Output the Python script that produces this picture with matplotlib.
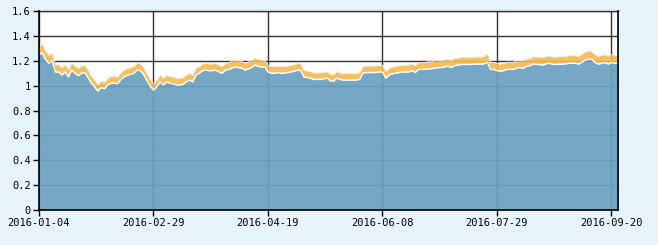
import matplotlib
matplotlib.use("Agg")
import matplotlib.pyplot as plt
import numpy as np

# tick labels (category axis of trading days, one label every 35 days)
tick_idx = [0, 35, 70, 105, 140, 175]
tick_labels = ["2016-01-04", "2016-02-29", "2016-04-19",
               "2016-06-08", "2016-07-29", "2016-09-20"]

# lower (blue) series
blue = [
    1.25, 1.265, 1.21, 1.18, 1.20, 1.11, 1.11, 1.085, 1.11, 1.07,
    1.125, 1.10, 1.08, 1.10, 1.105, 1.065, 1.02, 0.99, 0.955, 0.985,
    0.975, 1.005, 1.02, 1.02, 1.015, 1.05, 1.07, 1.085, 1.09, 1.10,
    1.125, 1.12, 1.09, 1.04, 0.995, 0.965, 0.99, 1.03, 1.005, 1.03,
    1.02, 1.015, 1.005, 1.005, 1.01, 1.03, 1.045, 1.03, 1.085, 1.10,
    1.12, 1.125, 1.12, 1.12, 1.125, 1.11, 1.10, 1.125, 1.13, 1.14,
    1.15, 1.145, 1.14, 1.125, 1.135, 1.145, 1.165, 1.155, 1.15, 1.15,
    1.11, 1.10, 1.10, 1.105, 1.10, 1.10, 1.105, 1.11, 1.115, 1.125,
    1.12, 1.07, 1.065, 1.06, 1.05, 1.05, 1.05, 1.055, 1.06, 1.04,
    1.035, 1.06, 1.05, 1.045, 1.045, 1.045, 1.045, 1.045, 1.05, 1.10,
    1.105, 1.105, 1.105, 1.105, 1.11, 1.11, 1.06, 1.085, 1.095, 1.10,
    1.105, 1.11, 1.11, 1.11, 1.12, 1.105, 1.13, 1.13, 1.13, 1.135,
    1.135, 1.14, 1.145, 1.145, 1.15, 1.157, 1.145, 1.16, 1.165, 1.17,
    1.17, 1.17, 1.17, 1.172, 1.173, 1.173, 1.175, 1.19, 1.13, 1.13,
    1.12, 1.117, 1.12, 1.13, 1.13, 1.13, 1.14, 1.145, 1.14, 1.155,
    1.16, 1.173, 1.17, 1.17, 1.165, 1.175, 1.18, 1.17, 1.17, 1.173,
    1.173, 1.175, 1.18, 1.18, 1.18, 1.173, 1.19, 1.205, 1.213, 1.21,
    1.185, 1.173, 1.18, 1.185, 1.173, 1.185, 1.18, 1.18,
]

# upper (orange) series, stacked on top of blue
orange = [
    0.063, 0.072, 0.068, 0.063, 0.063, 0.058, 0.058, 0.058, 0.058, 0.058,
    0.058, 0.058, 0.058, 0.058, 0.058, 0.058, 0.056, 0.054, 0.053, 0.053,
    0.053, 0.053, 0.054, 0.054, 0.054, 0.054, 0.055, 0.055, 0.055, 0.056,
    0.056, 0.056, 0.055, 0.054, 0.053, 0.053, 0.053, 0.054, 0.054, 0.054,
    0.054, 0.054, 0.054, 0.054, 0.054, 0.054, 0.054, 0.054, 0.055, 0.055,
    0.055, 0.055, 0.055, 0.055, 0.055, 0.055, 0.055, 0.055, 0.055, 0.056,
    0.056, 0.056, 0.056, 0.056, 0.056, 0.056, 0.056, 0.056, 0.056, 0.056,
    0.054, 0.054, 0.054, 0.054, 0.054, 0.054, 0.054, 0.054, 0.054, 0.054,
    0.054, 0.053, 0.053, 0.053, 0.053, 0.053, 0.053, 0.053, 0.053, 0.053,
    0.053, 0.053, 0.053, 0.053, 0.053, 0.053, 0.053, 0.053, 0.053, 0.053,
    0.053, 0.053, 0.054, 0.054, 0.054, 0.054, 0.054, 0.055, 0.055, 0.055,
    0.055, 0.055, 0.056, 0.056, 0.056, 0.056, 0.056, 0.056, 0.056, 0.057,
    0.057, 0.057, 0.057, 0.058, 0.058, 0.058, 0.058, 0.058, 0.058, 0.058,
    0.058, 0.058, 0.058, 0.058, 0.058, 0.058, 0.06, 0.068, 0.058, 0.058,
    0.058, 0.058, 0.058, 0.058, 0.058, 0.058, 0.058, 0.058, 0.058, 0.058,
    0.06, 0.06, 0.06, 0.06, 0.06, 0.061, 0.061, 0.061, 0.061, 0.061,
    0.061, 0.062, 0.062, 0.062, 0.062, 0.063, 0.064, 0.065, 0.065, 0.065,
    0.064, 0.064, 0.064, 0.064, 0.064, 0.064, 0.064, 0.064,
]

x = np.arange(len(blue))
blue = np.array(blue)
top = blue + np.array(orange)

fig = plt.figure(figsize=(6.58, 2.45), dpi=100, facecolor="#e7f3fb")
ax = fig.add_axes([39 / 658, 35 / 245, 579 / 658, 199 / 245])
ax.set_facecolor("white")

ax.set_axisbelow(True)
ax.grid(True, color="#333333", linewidth=1.0, zorder=0.5)

ax.fill_between(x, blue, top, color="#f5b94e", alpha=0.9, linewidth=0, zorder=2)
ax.plot(x, top, color="#e4eef6", linewidth=0.6, zorder=2.5)
ax.fill_between(x, 0, blue, color="#6aa1c0", alpha=0.92, linewidth=0, zorder=3)
ax.plot(x, blue, color="white", linewidth=1.0, zorder=4)

ax.set_xlim(0, len(blue) - 1)
ax.set_ylim(0, 1.6)
yt = np.arange(0, 1.61, 0.2)
ax.set_yticks(yt)
ax.set_yticklabels(["0" if v < 1e-9 else ("1" if abs(v - 1) < 1e-9 else f"{v:.1f}") for v in yt])
ax.set_xticks(tick_idx)
ax.set_xticklabels(tick_labels)

for s in ["left", "bottom", "right"]:
    ax.spines[s].set_color("black")
    ax.spines[s].set_linewidth(1.2)
    ax.spines[s].set_zorder(5)
ax.spines["top"].set_color("#333333")
ax.spines["top"].set_linewidth(1.0)

ax.tick_params(axis="both", direction="out", length=4, width=1, color="black",
               labelsize=7.5, pad=2)
for lab in ax.get_xticklabels() + ax.get_yticklabels():
    lab.set_family("DejaVu Sans Mono")
    lab.set_color("black")

fig.savefig("out.png", dpi=100, facecolor=fig.get_facecolor())
